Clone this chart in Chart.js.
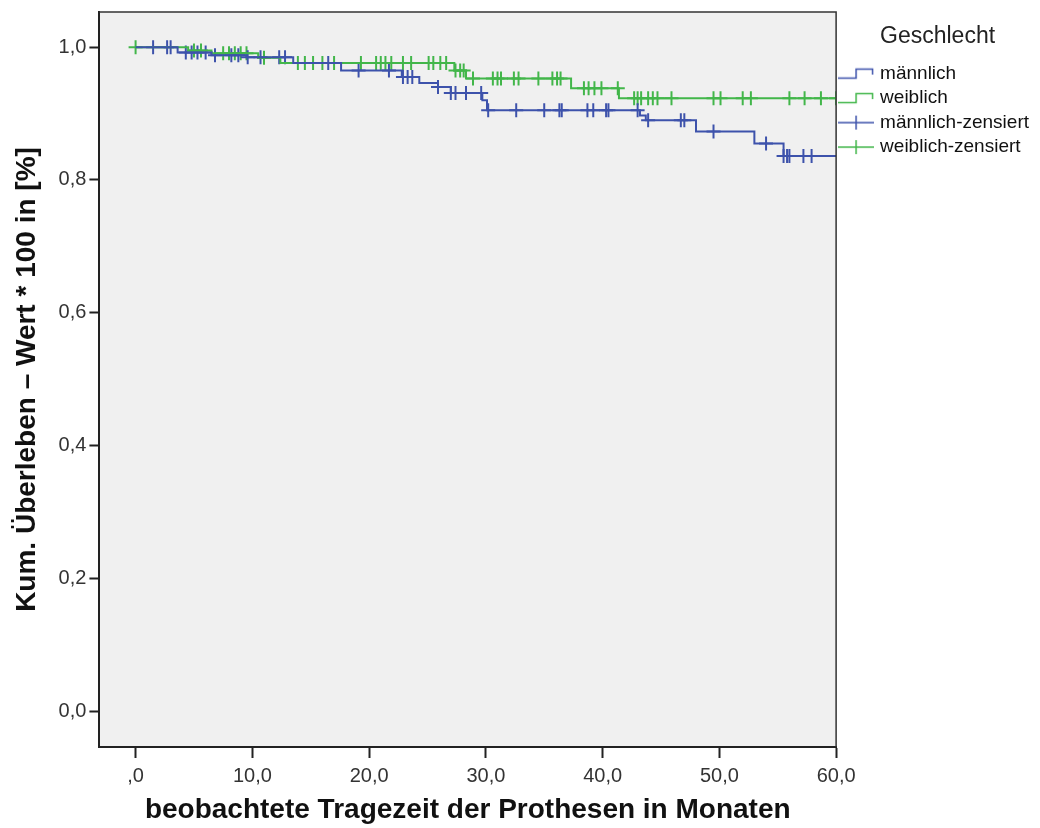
<!DOCTYPE html>
<html>
<head>
<meta charset="utf-8">
<script src="https://cdn.jsdelivr.net/npm/chart.js@4/dist/chart.umd.min.js"></script>
<style>
  html, body { margin: 0; padding: 0; background: #fff; }
  #wrap { width: 1040px; height: 828px; position: relative; }
</style>
</head>
<body>
<div id="wrap"><canvas id="km"></canvas></div>
<script>
// step points of the survival curves (time in months, survival after the step)
var maleTimes = [0, 3.6, 6.5, 9.5, 13.5, 17.6, 22.8, 24.3, 25.9, 27.0, 29.7, 30.1, 43.2, 43.7, 48.0, 53.0, 55.5, 60];
var maleSurv  = [1.0, 0.992, 0.988, 0.985, 0.976, 0.965, 0.955, 0.946, 0.940, 0.931, 0.920, 0.905, 0.897, 0.890, 0.873, 0.855, 0.836, 0.836];
var femaleTimes = [0, 4.5, 6.5, 10.5, 12.4, 27.3, 28.3, 37.3, 41.4, 60];
var femaleSurv  = [1.0, 0.995, 0.991, 0.984, 0.976, 0.965, 0.953, 0.938, 0.923, 0.923];

// censored observations (time in months)
var maleCensored = [1.5, 2.7, 3.0, 4.3, 4.8, 5.3, 6.0, 6.8, 8.2, 8.8, 9.6, 10.7, 12.3, 12.8, 16.5, 19.1, 21.7, 22.9, 23.3, 23.7,
    25.9, 27.0, 27.4, 28.3, 29.6, 30.2, 32.6, 35.0, 36.3, 36.5, 38.7, 39.2, 40.3, 40.5, 43.0, 43.9, 46.7, 47.0, 49.5,
    54.0, 55.5, 55.8, 56.0, 57.2, 57.9];
var femaleCensored = [0, 5.0, 5.6, 7.5, 8.0, 8.5, 9.0, 9.5, 11.0, 13.9, 14.5, 15.2, 16.0, 17.0, 19.3, 20.6, 21.0, 21.4, 21.9,
    22.9, 23.6, 25.1, 25.5, 26.1, 26.6, 27.4, 27.8, 28.1, 28.9, 30.6, 31.0, 31.3, 32.4, 32.8, 34.5, 35.7, 36.1, 36.4,
    38.4, 38.8, 39.3, 39.9, 41.3, 42.7, 43.0, 43.3, 43.9, 44.3, 44.7, 45.9, 49.5, 50.1, 52.0, 52.7, 56.0, 57.3, 58.7, 60.0];

var xTicks = [0, 10, 20, 30, 40, 50, 60];
var yTicks = [0, 0.2, 0.4, 0.6, 0.8, 1.0];
var seriesNames = ['männlich', 'weiblich', 'männlich-zensiert', 'weiblich-zensiert'];

var BLUE = '#3d52ab';
var GREEN = '#42b64a';
var FONT = 'Arial, "Liberation Sans", sans-serif';

// survival value of a step curve at time t
function survAt(times, surv, t){
    var s = surv[0];
    for(var i = 0; i < times.length; i++){
        if(times[i] <= t){ s = surv[i]; }
    }
    return s;
}
function toPoints(times, surv){
    return times.map(function(t, i){ return {x: t, y: surv[i]}; });
}
function censorPoints(list, times, surv){
    return list.map(function(t){ return {x: t, y: survAt(times, surv, t)}; });
}

// small legend glyphs
function stepIcon(color){
    var c = document.createElement('canvas');
    c.width = 36; c.height = 16;
    var g = c.getContext('2d');
    g.strokeStyle = color; g.lineWidth = 1.5;
    g.beginPath();
    g.moveTo(0, 12.5); g.lineTo(18, 12.5); g.lineTo(18, 3.5); g.lineTo(34.5, 3.5); g.lineTo(34.5, 9);
    g.stroke();
    return c;
}
function crossIcon(color){
    var c = document.createElement('canvas');
    c.width = 36; c.height = 16;
    var g = c.getContext('2d');
    g.strokeStyle = color; g.lineWidth = 1.5;
    g.beginPath();
    g.moveTo(0, 8); g.lineTo(36, 8);
    g.moveTo(18, 1); g.lineTo(18, 15);
    g.stroke();
    return c;
}
var icons = [stepIcon(BLUE), stepIcon(GREEN), crossIcon(BLUE), crossIcon(GREEN)];

// plot background and frame
var plotFrame = {
    id: 'plotFrame',
    beforeDraw: function(chart){
        var a = chart.chartArea, ctx = chart.ctx;
        ctx.save();
        ctx.fillStyle = '#f0f0f0';
        ctx.fillRect(a.left, a.top, a.right - a.left, a.bottom - a.top);
        ctx.restore();
    },
    afterDraw: function(chart){
        var a = chart.chartArea, ctx = chart.ctx;
        ctx.save();
        ctx.strokeStyle = '#333';
        ctx.lineWidth = 1.5;
        ctx.beginPath();
        ctx.moveTo(a.left, a.top); ctx.lineTo(a.right, a.top); ctx.lineTo(a.right, a.bottom);
        ctx.stroke();
        ctx.restore();
    }
};

new Chart(document.getElementById('km'), {
    type: 'line',
    data: {
        datasets: [
            {
                label: seriesNames[0],
                data: toPoints(maleTimes, maleSurv),
                stepped: 'before',
                borderColor: BLUE,
                borderWidth: 2,
                pointRadius: 0,
                fill: false
            },
            {
                label: seriesNames[1],
                data: toPoints(femaleTimes, femaleSurv),
                stepped: 'before',
                borderColor: GREEN,
                borderWidth: 2,
                pointRadius: 0,
                fill: false
            },
            {
                label: seriesNames[2],
                data: censorPoints(maleCensored, maleTimes, maleSurv),
                showLine: false,
                pointStyle: 'cross',
                pointRadius: 7,
                pointBorderWidth: 2,
                borderColor: BLUE,
                backgroundColor: BLUE
            },
            {
                label: seriesNames[3],
                data: censorPoints(femaleCensored, femaleTimes, femaleSurv),
                showLine: false,
                pointStyle: 'cross',
                pointRadius: 7,
                pointBorderWidth: 2,
                borderColor: GREEN,
                backgroundColor: GREEN
            }
        ]
    },
    options: {
        responsive: true,
        maintainAspectRatio: false,
        animation: false,
        events: [],
        layout: { padding: { left: 4, top: 12, right: 1, bottom: 1 } },
        scales: {
            x: {
                type: 'linear',
                min: -3.1,
                max: 60,
                afterBuildTicks: function(scale){
                    scale.ticks = xTicks.map(function(v){ return {value: v}; });
                },
                afterFit: function(scale){
                    scale.height = 80;
                },
                grid: { drawOnChartArea: false, drawTicks: true, tickLength: 11, tickWidth: 2, tickColor: '#222' },
                border: { display: true, color: '#222', width: 2 },
                ticks: {
                    color: '#333',
                    padding: 6,
                    maxRotation: 0,
                    font: { family: FONT, size: 20 },
                    callback: function(v){
                        return v === 0 ? ',0' : v.toFixed(1).replace('.', ',');
                    }
                },
                title: {
                    display: true,
                    text: 'beobachtete Tragezeit der Prothesen in Monaten',
                    color: '#111',
                    font: { family: FONT, size: 28, weight: 'bold' },
                    padding: { top: 0, bottom: 0 }
                }
            },
            y: {
                type: 'linear',
                min: -0.054,
                max: 1.053,
                afterBuildTicks: function(scale){
                    scale.ticks = yTicks.map(function(v){ return {value: v}; });
                },
                afterFit: function(scale){
                    scale.paddingTop = 0;
                    scale.paddingBottom = 0;
                },
                grid: { drawOnChartArea: false, drawTicks: true, tickLength: 10, tickWidth: 2, tickColor: '#222' },
                border: { display: true, color: '#222', width: 2 },
                ticks: {
                    color: '#333',
                    padding: 3,
                    font: { family: FONT, size: 20 },
                    callback: function(v){ return v.toFixed(1).replace('.', ','); }
                },
                title: {
                    display: true,
                    text: 'Kum. Überleben – Wert * 100 in [%]',
                    color: '#111',
                    font: { family: FONT, size: 28, weight: 'bold' },
                    padding: { top: 6, bottom: 12 }
                }
            }
        },
        plugins: {
            tooltip: { enabled: false },
            legend: {
                display: true,
                position: 'right',
                align: 'start',
                title: {
                    display: true,
                    text: 'Geschlecht',
                    color: '#222',
                    font: { family: FONT, size: 23 },
                    padding: { top: 13, bottom: 6 }
                },
                labels: {
                    usePointStyle: true,
                    pointStyleWidth: 29,
                    boxHeight: 16,
                    padding: 5.5,
                    color: '#111',
                    font: { family: FONT, size: 19 },
                    generateLabels: function(chart){
                        var items = Chart.defaults.plugins.legend.labels.generateLabels(chart);
                        items.forEach(function(it, i){
                            it.pointStyle = icons[i];
                            it.fillStyle = 'transparent';
                            it.strokeStyle = 'transparent';
                            it.lineWidth = 0;
                        });
                        return items;
                    }
                }
            }
        }
    },
    plugins: [plotFrame]
});
</script>
</body>
</html>
